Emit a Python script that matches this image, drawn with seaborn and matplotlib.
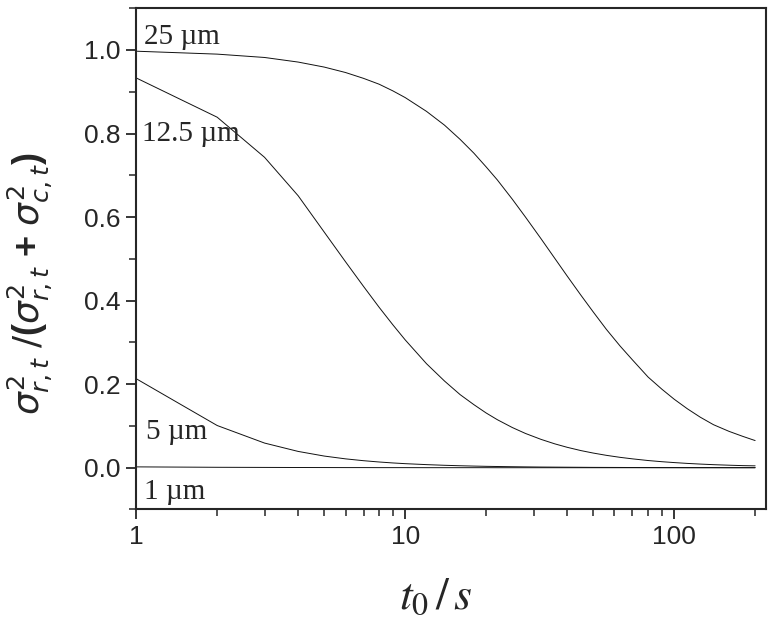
import numpy as np
import pandas as pd
import seaborn as sns
import matplotlib.pyplot as plt
from matplotlib.ticker import MultipleLocator, LogLocator, NullFormatter, FixedLocator, FixedFormatter

# t0 / s
t0 = [1, 2, 3, 4, 5, 6, 7, 8, 9, 10, 12, 14, 16, 18, 20, 22, 25, 28, 32, 36,
      40, 45, 50, 56, 63, 70, 80, 90, 100, 112, 125, 140, 160, 180, 200]

r25 = [0.997, 0.990, 0.982, 0.971, 0.959, 0.946, 0.932, 0.918, 0.902, 0.886,
       0.853, 0.820, 0.786, 0.753, 0.720, 0.689, 0.643, 0.600, 0.548, 0.501,
       0.459, 0.413, 0.373, 0.331, 0.291, 0.258, 0.217, 0.188, 0.164, 0.141,
       0.121, 0.103, 0.087, 0.075, 0.065]
r125 = [0.933, 0.839, 0.743, 0.651, 0.564, 0.493, 0.434, 0.384, 0.342, 0.306,
        0.249, 0.2075, 0.175, 0.151, 0.131, 0.115, 0.0963, 0.082, 0.0678, 0.0571,
        0.0489, 0.041, 0.0351, 0.0296, 0.0248, 0.0212, 0.0172, 0.0144, 0.0123, 0.0103,
        0.0087, 0.0073, 0.006, 0.005, 0.0045]
r5 = [0.213, 0.101, 0.059, 0.039, 0.0279, 0.0212, 0.0168, 0.0137, 0.0114, 0.0097,
      0.0074, 0.0058, 0.0047, 0.0039, 0.0033, 0.0029, 0.0024, 0.002, 0.0016, 0.0014,
      0.0012, 0.001, 0.0008, 0.0007, 0.0006, 0.0005, 0.0004, 0.0003, 0.0003, 0.0002,
      0.0002, 0.0002, 0.0001, 0.0001, 0.0001]
r1 = [0.002, 0.001, 0.0007, 0.0005, 0.0004, 0.0003, 0.0003, 0.0002, 0.0002, 0.0002,
      0.0001, 0.0001, 0.0001, 0.0001, 0.0001, 0.0, 0.0, 0.0, 0.0, 0.0,
      0.0, 0.0, 0.0, 0.0, 0.0, 0.0, 0.0, 0.0, 0.0, 0.0,
      0.0, 0.0, 0.0, 0.0, 0.0]

curvas = {"25 µm": r25, "12.5 µm": r125, "5 µm": r5, "1 µm": r1}
# label positions (t0, ratio)
etiquetas = {"25 µm": (1.07, 1.03), "12.5 µm": (1.05, 0.80),
             "5 µm": (1.09, 0.085), "1 µm": (1.07, -0.058)}

df = pd.DataFrame({"t0": t0 * 4,
                   "ratio": r25 + r125 + r5 + r1,
                   "d": sum([[k] * len(t0) for k in curvas], [])})

sns.set_style("ticks")
plt.rcParams['font.family'] = ['Liberation Sans', 'DejaVu Sans']

fig = plt.figure(figsize=(7.74, 6.29), dpi=100)
ax = fig.add_axes([0.176, 0.19, 0.814, 0.797])

sns.lineplot(data=df, x="t0", y="ratio", units="d", estimator=None,
             color="#111111", linewidth=0.7, ax=ax, legend=False)

ax.set_xscale("log")
ax.set_xlim(1, 220)
ax.set_ylim(-0.1, 1.1)

ax.yaxis.set_major_locator(FixedLocator([0.0, 0.2, 0.4, 0.6, 0.8, 1.0]))
ax.yaxis.set_major_formatter(FixedFormatter(["0.0", "0.2", "0.4", "0.6", "0.8", "1.0"]))
ax.yaxis.set_minor_locator(MultipleLocator(0.1))
ax.xaxis.set_major_locator(FixedLocator([1, 10, 100]))
ax.xaxis.set_major_formatter(FixedFormatter(["1", "10", "100"]))
ax.xaxis.set_minor_locator(LogLocator(base=10, subs=np.arange(2, 10)))
ax.xaxis.set_minor_formatter(NullFormatter())

ax.tick_params(which="major", direction="out", length=7.5, width=1.3, labelsize=19, pad=4)
ax.tick_params(which="minor", direction="out", length=5, width=1.1)
for s in ax.spines.values():
    s.set_linewidth(1.5)
    s.set_visible(True)

for k, (x, y) in etiquetas.items():
    ax.text(x, y, k, fontsize=21, family=['Liberation Serif'], va="center", ha="left")

ylab = ax.set_ylabel(r'$\sigma^2_{r,t}$ $/$($\sigma^2_{r,t}$ + $\sigma^2_{c,t}$)',
                     fontsize=26, fontweight="bold")
ylab.set_math_fontfamily('dejavusans')
ax.yaxis.set_label_coords(-0.168, 0.45)
ylab.set_va("center")
xlab = ax.set_xlabel(r'$t_0\,/\,s$', fontsize=33)
xlab.set_math_fontfamily('stix')
ax.xaxis.set_label_coords(0.476, -0.13)

plt.savefig("out.png", dpi=100)
